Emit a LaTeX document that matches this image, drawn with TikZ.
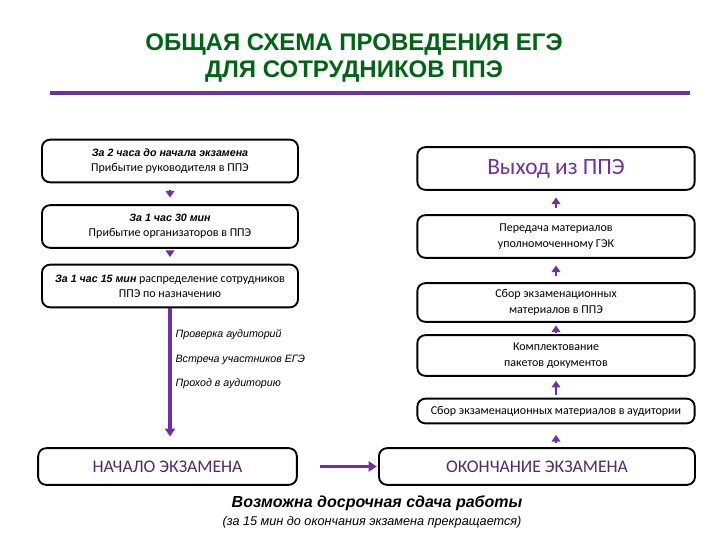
\documentclass[tikz,border=0pt]{standalone}
\usepackage{fontspec}
\setmainfont{Carlito}
\newfontfamily\arialfont{Liberation Sans}
\usetikzlibrary{arrows.meta, positioning}
\definecolor{titlegreen}{RGB}{0,100,20}
\definecolor{egepurple}{RGB}{112,48,160}
\definecolor{darkplum}{RGB}{80,40,110}
\tikzset{
  stagebox/.style={rectangle, rounded corners=6pt, draw=black, line width=1.4pt,
    align=center, inner sep=1pt, font=\fontsize{9}{11.5}\selectfont},
  leftbox/.style={stagebox, minimum width=192pt, minimum height=32pt},
  rightbox/.style={stagebox, minimum width=208pt, minimum height=32pt},
  bigbox/.style={stagebox, minimum height=27.5pt, font=\fontsize{13.3}{15}\selectfont,
    text=darkplum},
  sidetxt/.style={anchor=west, inner sep=1pt, font=\arialfont\itshape\fontsize{8}{9}\selectfont},
  steparrow/.style={-{Triangle[length=5pt,width=6.5pt]}, line width=1.6pt, egepurple,
    shorten <=5pt, shorten >=5pt},
  longarrow/.style={-{Triangle[length=6pt,width=7.5pt]}, line width=2.4pt, egepurple},
}

\begin{document}
\begin{tikzpicture}[x=0.75pt, y=-0.75pt]
  \useasboundingbox (0,0) rectangle (720,540);
  % Title
  \node[font=\arialfont\bfseries\fontsize{18}{20.5}\selectfont, text=titlegreen, align=center]
    (title) at (354,58) {ОБЩАЯ СХЕМА ПРОВЕДЕНИЯ ЕГЭ\\ДЛЯ СОТРУДНИКОВ ППЭ};
  \draw[egepurple, line width=2.4pt] (50,93) -- (690,93);

  % Left column
  \node[leftbox] (arrhead) at (170,161)
    {{\arialfont\bfseries\itshape\fontsize{8}{9}\selectfont За 2 часа до начала экзамена}\\Прибытие руководителя в ППЭ};
  \node[leftbox] (arrorg) at (170,226.5)
    {{\arialfont\bfseries\itshape\fontsize{8}{9}\selectfont За 1 час 30 мин}\\Прибытие организаторов в ППЭ};
  \node[leftbox] (assign) at (170,286)
    {{\arialfont\bfseries\itshape\fontsize{8}{9}\selectfont За 1 час 15 мин} распределение сотрудников\\ППЭ по назначению};
  \node[bigbox, minimum width=194pt] (start) at (167.5,466.5) {НАЧАЛО ЭКЗАМЕНА};

  \draw[steparrow] (arrhead) -- (arrorg);
  \draw[steparrow] (arrorg) -- (assign);
  \draw[longarrow, shorten >=8pt] (assign.south) -- (assign.south |- start.north);

  \node[sidetxt] (check) at (174,335) {Проверка аудиторий};
  \node[sidetxt] (meet) at (174,360) {Встреча участников ЕГЭ};
  \node[sidetxt] (pass) at (174,384) {Проход в аудиторию};

  % Right column
  \node[rightbox, minimum height=32pt, font=\fontsize{17.5}{19}\selectfont, text=egepurple]
    (exit) at (556,168.5) {Выход из ППЭ};
  \node[rightbox] (handover) at (556,236.5)
    {Передача материалов\\уполномоченному ГЭК};
  \node[rightbox, minimum height=29pt] (collect) at (556,302.5)
    {Сбор экзаменационных\\материалов в ППЭ};
  \node[rightbox, minimum height=30.5pt] (pack) at (556,355.5)
    {Комплектование\\пакетов документов};
  \node[rightbox, minimum height=18.5pt] (roomcollect) at (556,411)
    {Сбор экзаменационных материалов в аудитории};
  \node[bigbox, minimum width=237pt] (finish) at (537,466.5) {ОКОНЧАНИЕ ЭКЗАМЕНА};

  \draw[steparrow] (handover) -- (exit);
  \draw[steparrow] (collect) -- (handover);
  \draw[steparrow, shorten <=2pt, shorten >=2pt] (pack) -- (collect);
  \draw[steparrow, shorten <=2pt, shorten >=3pt] (roomcollect) -- (pack);
  \draw[steparrow, shorten <=3pt, shorten >=8pt] (finish.north -| roomcollect) -- (roomcollect);

  \draw[longarrow, shorten <=17pt, shorten >=1pt] (start) -- (finish);

  % Note
  \node[font=\arialfont\bfseries\itshape\fontsize{12}{13}\selectfont] (early) at (377,503)
    {Возможна досрочная сдача работы};
  \node[font=\arialfont\itshape\fontsize{9.5}{10}\selectfont] (stop) at (372,522)
    {(за 15 мин до окончания экзамена прекращается)};
\end{tikzpicture}
\end{document}
